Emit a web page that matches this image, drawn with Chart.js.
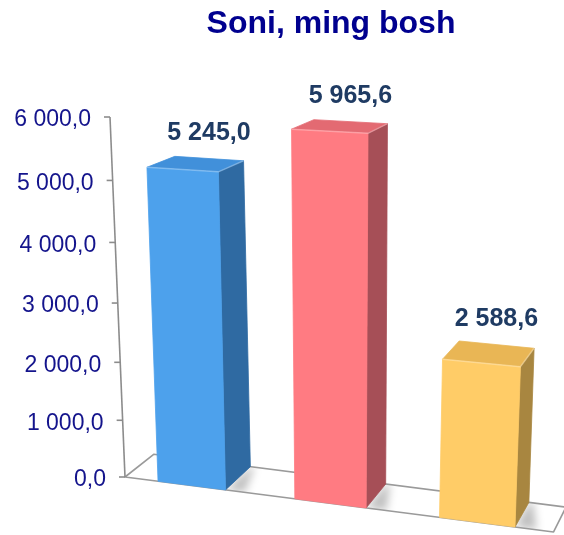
<!DOCTYPE html>
<html>
<head>
<meta charset="utf-8">
<script src="https://cdn.jsdelivr.net/npm/chart.js@4/dist/chart.umd.min.js"></script>
<style>
  html, body { margin: 0; padding: 0; background: #ffffff; }
  canvas { display: block; }
</style>
</head>
<body>
<canvas id="chart" width="564" height="535"></canvas>
<script>
// ---- data ----
const categories = ['A', 'B', 'C'];
const values = [5245.0, 5965.6, 2588.6];
const tickValues = [0, 1000, 2000, 3000, 4000, 5000, 6000];
const chartTitle = 'Soni, ming bosh';

// ---- colours of the three faces of each column ----
const frontColors = ['#4DA1EC', '#FF7B82', '#FFCC67'];
const topColors   = ['#4190DA', '#E36A72', '#E9B655'];
const sideColors  = ['#2F6AA2', '#A64F57', '#A88640'];

// "6 000,0" style numbers
function fmt(v) {
  const parts = v.toFixed(1).split('.');
  return parts[0].replace(/\B(?=(\d{3})+(?!\d))/g, ' ') + ',' + parts[1];
}

// Camera for the 3D look: four reference points of the front plane
// (c = position in category widths from the axis, v = value) and where they land,
// plus the vanishing point used for the depth of the columns.
const VIEW = {
  anchors: [
    { c: 0,    v: 6000, x: 110, y: 117 },
    { c: 0,    v: 0,    x: 125, y: 477 },
    { c: 2.75, v: 0,    x: 515, y: 527 },
    { c: 1.75, v: 6000, x: 368, y: 131 }
  ],
  vanish: { x: 880, y: -120 },
  depth: 0.038
};

function solveHomography(src, dst) {
  const A = [], b = [];
  for (let i = 0; i < 4; i++) {
    const [x, y] = src[i], [X, Y] = dst[i];
    A.push([x, y, 1, 0, 0, 0, -X * x, -X * y]); b.push(X);
    A.push([0, 0, 0, x, y, 1, -Y * x, -Y * y]); b.push(Y);
  }
  const n = 8;
  for (let c = 0; c < n; c++) {
    let p = c;
    for (let r = c + 1; r < n; r++) if (Math.abs(A[r][c]) > Math.abs(A[p][c])) p = r;
    [A[c], A[p]] = [A[p], A[c]]; [b[c], b[p]] = [b[p], b[c]];
    for (let r = c + 1; r < n; r++) {
      const f = A[r][c] / A[c][c];
      for (let k = c; k < n; k++) A[r][k] -= f * A[c][k];
      b[r] -= f * b[c];
    }
  }
  const h = new Array(n);
  for (let r = n - 1; r >= 0; r--) {
    let s = b[r];
    for (let k = r + 1; k < n; k++) s -= A[r][k] * h[k];
    h[r] = s / A[r][r];
  }
  return h;
}

function applyH(h, x, y) {
  const w = h[6] * x + h[7] * y + 1;
  return [(h[0] * x + h[1] * y + h[2]) / w, (h[3] * x + h[4] * y + h[5]) / w];
}

function poly(ctx, pts, fill, stroke, lw) {
  ctx.beginPath();
  ctx.moveTo(pts[0][0], pts[0][1]);
  for (let i = 1; i < pts.length; i++) ctx.lineTo(pts[i][0], pts[i][1]);
  ctx.closePath();
  if (fill) { ctx.fillStyle = fill; ctx.fill(); }
  if (stroke) { ctx.strokeStyle = stroke; ctx.lineWidth = lw || 1; ctx.stroke(); }
}

// Draws the columns, floor and value axis in perspective from the chart's own scales.
const perspectiveColumns = {
  id: 'perspectiveColumns',
  beforeDatasetsDraw(chart) {
    const ctx = chart.ctx;
    const xs = chart.scales.x, ys = chart.scales.y;
    const n = chart.data.labels.length;
    const catW = xs.width / n;
    const src = VIEW.anchors.map(a => [xs.left + a.c * catW, ys.getPixelForValue(a.v)]);
    const H = solveHomography(src, VIEW.anchors.map(a => [a.x, a.y]));
    const F = (x, y) => applyH(H, x, y);
    const V = VIEW.vanish, k = 1 - VIEW.depth;
    const B = p => [V.x + k * (p[0] - V.x), V.y + k * (p[1] - V.y)];
    const y0 = ys.getPixelForValue(0);

    ctx.save();
    ctx.lineJoin = 'round';

    // floor
    const fl = F(xs.left, y0), fr = F(xs.right, y0);
    const floor = [fl, fr, B(fr), B(fl)];
    poly(ctx, floor, '#ffffff', null);

    // soft shadows on the floor next to each column
    const meta = chart.getDatasetMeta(0);
    ctx.save();
    poly(ctx, floor, null, null);
    ctx.clip();
    ctx.filter = 'blur(4px)';
    meta.data.forEach(el => {
      const xr = el.x + el.width / 2;
      const a = F(xr, y0), c = F(xr + catW * 0.14, y0);
      poly(ctx, [a, B(a), B(F(xr + catW * 0.03, y0)), c], 'rgba(0,0,0,0.25)', null);
    });
    ctx.filter = 'none';
    ctx.restore();

    poly(ctx, floor, null, '#9a9a9a', 1.6);

    // value axis
    const axTop = F(xs.left, ys.getPixelForValue(tickValues[tickValues.length - 1]));
    ctx.beginPath();
    ctx.moveTo(axTop[0], axTop[1]);
    ctx.lineTo(fl[0], fl[1]);
    ctx.strokeStyle = '#8c8c8c';
    ctx.lineWidth = 1.6;
    ctx.stroke();
    ctx.font = '23px "Liberation Sans", Arial, sans-serif';
    ctx.fillStyle = '#14148C';
    ctx.textAlign = 'right';
    ctx.textBaseline = 'middle';
    tickValues.forEach(t => {
      const p = F(xs.left, ys.getPixelForValue(t));
      ctx.beginPath();
      ctx.moveTo(p[0], p[1]);
      ctx.lineTo(p[0] - 6, p[1]);
      ctx.stroke();
      ctx.fillText(fmt(t), p[0] - 19, p[1] + 3);
    });

    // columns
    meta.data.forEach((el, i) => {
      const xl = el.x - el.width / 2, xr = el.x + el.width / 2;
      const bl = F(xl, el.base), br = F(xr, el.base);
      const tl = F(xl, el.y), tr = F(xr, el.y);
      poly(ctx, [br, tr, B(tr), B(br)], sideColors[i], sideColors[i], 0.8);
      poly(ctx, [tl, tr, B(tr), B(tl)], topColors[i], topColors[i], 0.8);
      poly(ctx, [bl, br, tr, tl], frontColors[i], frontColors[i], 0.8);
      // light rim along the top edges
      ctx.beginPath();
      ctx.moveTo(tl[0], tl[1]); ctx.lineTo(tr[0], tr[1]); ctx.lineTo(B(tr)[0], B(tr)[1]);
      ctx.strokeStyle = 'rgba(255,255,255,0.28)';
      ctx.lineWidth = 1.5;
      ctx.stroke();
    });

    // value labels
    ctx.font = 'bold 25px "Liberation Sans", Arial, sans-serif';
    ctx.fillStyle = '#1F3B63';
    ctx.textAlign = 'center';
    ctx.textBaseline = 'alphabetic';
    meta.data.forEach((el, i) => {
      const p = B(F(el.x, el.y));
      ctx.fillText(fmt(values[i]), p[0], p[1] - 18.5);
    });

    ctx.restore();
    return false;
  }
};

new Chart(document.getElementById('chart'), {
  type: 'bar',
  data: {
    labels: categories,
    datasets: [{
      data: values,
      backgroundColor: frontColors,
      barPercentage: 1,
      categoryPercentage: 0.5
    }]
  },
  options: {
    responsive: false,
    animation: false,
    devicePixelRatio: 1,
    layout: { padding: { left: 110, right: 12, top: 0, bottom: 50 } },
    plugins: {
      legend: { display: false },
      tooltip: { enabled: false },
      title: {
        display: true,
        text: chartTitle,
        color: '#00008F',
        font: { family: '"Liberation Sans", Arial, sans-serif', size: 32, weight: 'bold' },
        padding: { top: 5, bottom: 60 }
      }
    },
    scales: {
      x: { display: false, offset: true },
      y: { display: false, min: 0, max: 6000, ticks: { stepSize: 1000 } }
    }
  },
  plugins: [perspectiveColumns]
});
</script>
</body>
</html>
